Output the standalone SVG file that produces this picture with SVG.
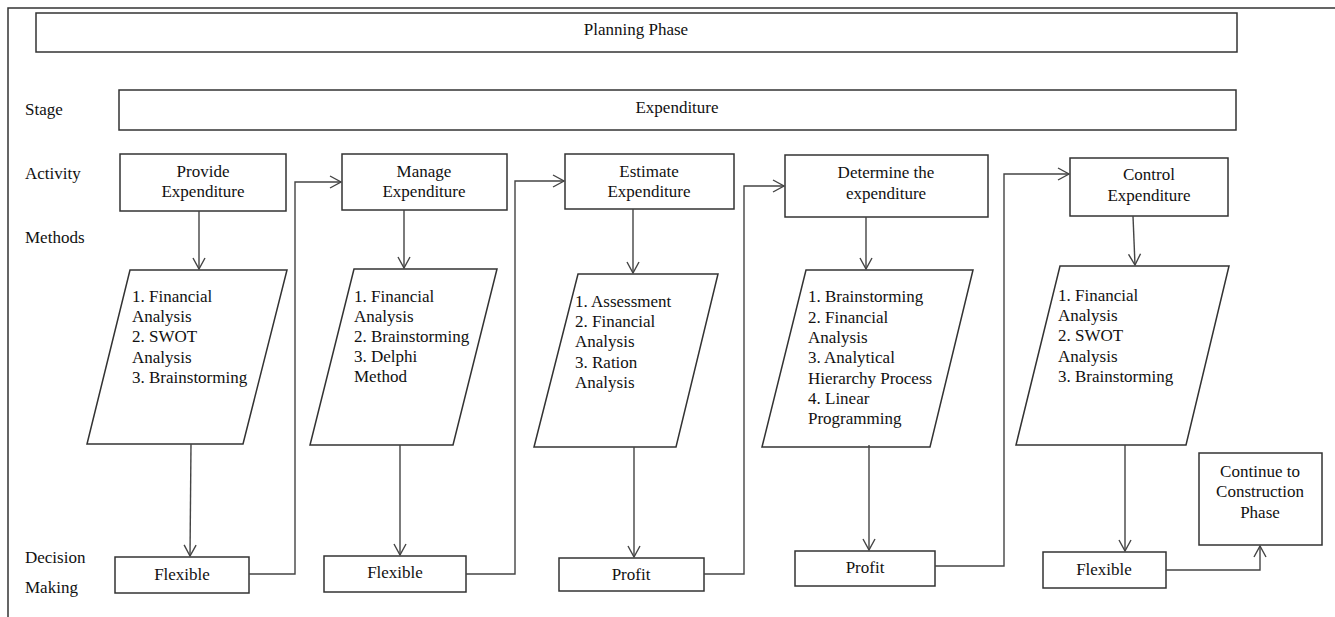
<svg xmlns="http://www.w3.org/2000/svg" width="1335" height="617" viewBox="0 0 1335 617">
<defs>
<style>
.box{fill:#fff;stroke:#333;stroke-width:1.5}
.frame{fill:none;stroke:#333;stroke-width:1.5}
.c{fill:none;stroke:#444;stroke-width:1.4}
text{font-family:"Liberation Serif","Times New Roman",serif;font-size:17px;fill:#111}
.m{text-anchor:middle}
</style>
<marker id="arr" viewBox="-12 -7 13 14" markerWidth="13" markerHeight="14" refX="0" refY="0" markerUnits="userSpaceOnUse" orient="auto">
<path d="M-11,-6 L0,0 L-11,6" fill="none" stroke="#444" stroke-width="1.4"/>
</marker>
</defs>
<rect width="1335" height="617" fill="#fff"/>
<path class="frame" d="M8,617 V8 H1335"/>

<g id="labels">
<text x="25" y="115">Stage</text>
<text x="25" y="179">Activity</text>
<text x="25" y="243">Methods</text>
<text x="25" y="563">Decision</text>
<text x="25" y="593">Making</text>
</g>

<g id="planning"><rect class="box" x="36" y="13" width="1201" height="39"/><text class="m" x="636" y="35">Planning Phase</text></g>
<g id="stage"><rect class="box" x="119" y="90" width="1117" height="40"/><text class="m" x="677" y="113">Expenditure</text></g>

<g id="act1"><rect class="box" x="120" y="154" width="166" height="57"/><text class="m" x="203" y="177">Provide</text><text class="m" x="203" y="197">Expenditure</text></g>
<g id="act2"><rect class="box" x="342" y="154" width="165" height="56"/><text class="m" x="424" y="177">Manage</text><text class="m" x="424" y="197">Expenditure</text></g>
<g id="act3"><rect class="box" x="565" y="154" width="169" height="55"/><text class="m" x="649" y="177">Estimate</text><text class="m" x="649" y="197">Expenditure</text></g>
<g id="act4"><rect class="box" x="785" y="155" width="203" height="62"/><text class="m" x="886" y="178">Determine the</text><text class="m" x="886" y="199">expenditure</text></g>
<g id="act5"><rect class="box" x="1070" y="158" width="158" height="58"/><text class="m" x="1149" y="180">Control</text><text class="m" x="1149" y="201">Expenditure</text></g>

<g id="meth1"><polygon class="box" points="130,270 287,270 243,444 87,444"/>
<text x="132" y="302">1. Financial</text><text x="132" y="322">Analysis</text><text x="132" y="342">2. SWOT</text><text x="132" y="363">Analysis</text><text x="132" y="383">3. Brainstorming</text></g>
<g id="meth2"><polygon class="box" points="354,269 497,269 453,445 310,445"/>
<text x="354" y="302">1. Financial</text><text x="354" y="322">Analysis</text><text x="354" y="342">2. Brainstorming</text><text x="354" y="362">3. Delphi</text><text x="354" y="382">Method</text></g>
<g id="meth3"><polygon class="box" points="578,274 718,274 676,447 534,447"/>
<text x="575" y="307">1. Assessment</text><text x="575" y="327">2. Financial</text><text x="575" y="347">Analysis</text><text x="575" y="368">3. Ration</text><text x="575" y="388">Analysis</text></g>
<g id="meth4"><polygon class="box" points="806,270 973,270 930,447 762,447"/>
<text x="808" y="302">1. Brainstorming</text><text x="808" y="323">2. Financial</text><text x="808" y="343">Analysis</text><text x="808" y="363">3. Analytical</text><text x="808" y="384">Hierarchy Process</text><text x="808" y="404">4. Linear</text><text x="808" y="424">Programming</text></g>
<g id="meth5"><polygon class="box" points="1060,266 1229,266 1186,445 1016,445"/>
<text x="1058" y="301">1. Financial</text><text x="1058" y="321">Analysis</text><text x="1058" y="341">2. SWOT</text><text x="1058" y="362">Analysis</text><text x="1058" y="382">3. Brainstorming</text></g>

<g id="dec1"><rect class="box" x="115" y="557" width="134" height="36"/><text class="m" x="182" y="580">Flexible</text></g>
<g id="dec2"><rect class="box" x="324" y="556" width="142" height="36"/><text class="m" x="395" y="578">Flexible</text></g>
<g id="dec3"><rect class="box" x="559" y="558" width="145" height="33"/><text class="m" x="631" y="580">Profit</text></g>
<g id="dec4"><rect class="box" x="795" y="551" width="140" height="35"/><text class="m" x="865" y="573">Profit</text></g>
<g id="dec5"><rect class="box" x="1043" y="552" width="123" height="36"/><text class="m" x="1104" y="575">Flexible</text></g>
<g id="cont"><rect class="box" x="1199" y="453" width="123" height="92"/><text class="m" x="1260" y="477">Continue to</text><text class="m" x="1260" y="497">Construction</text><text class="m" x="1260" y="518">Phase</text></g>

<g id="connectors">
<path class="c" d="M199,211 V269" marker-end="url(#arr)"/>
<path class="c" d="M404,210 V268" marker-end="url(#arr)"/>
<path class="c" d="M633,209 V273" marker-end="url(#arr)"/>
<path class="c" d="M866,217 V269" marker-end="url(#arr)"/>
<path class="c" d="M1133,216 L1135,265" marker-end="url(#arr)"/>
<path class="c" d="M191,444 L190,556" marker-end="url(#arr)"/>
<path class="c" d="M400,445 V555" marker-end="url(#arr)"/>
<path class="c" d="M634,447 V557" marker-end="url(#arr)"/>
<path class="c" d="M869,445 V550" marker-end="url(#arr)"/>
<path class="c" d="M1125,445 V551" marker-end="url(#arr)"/>
<path class="c" d="M249,574 H295 V182 H341" marker-end="url(#arr)"/>
<path class="c" d="M466,574 H515 V181 H564" marker-end="url(#arr)"/>
<path class="c" d="M704,574 H744 V186 H784" marker-end="url(#arr)"/>
<path class="c" d="M935,566 H1004 V174 H1069" marker-end="url(#arr)"/>
<path class="c" d="M1166,570 H1260 V546" marker-end="url(#arr)"/>
</g>
</svg>
